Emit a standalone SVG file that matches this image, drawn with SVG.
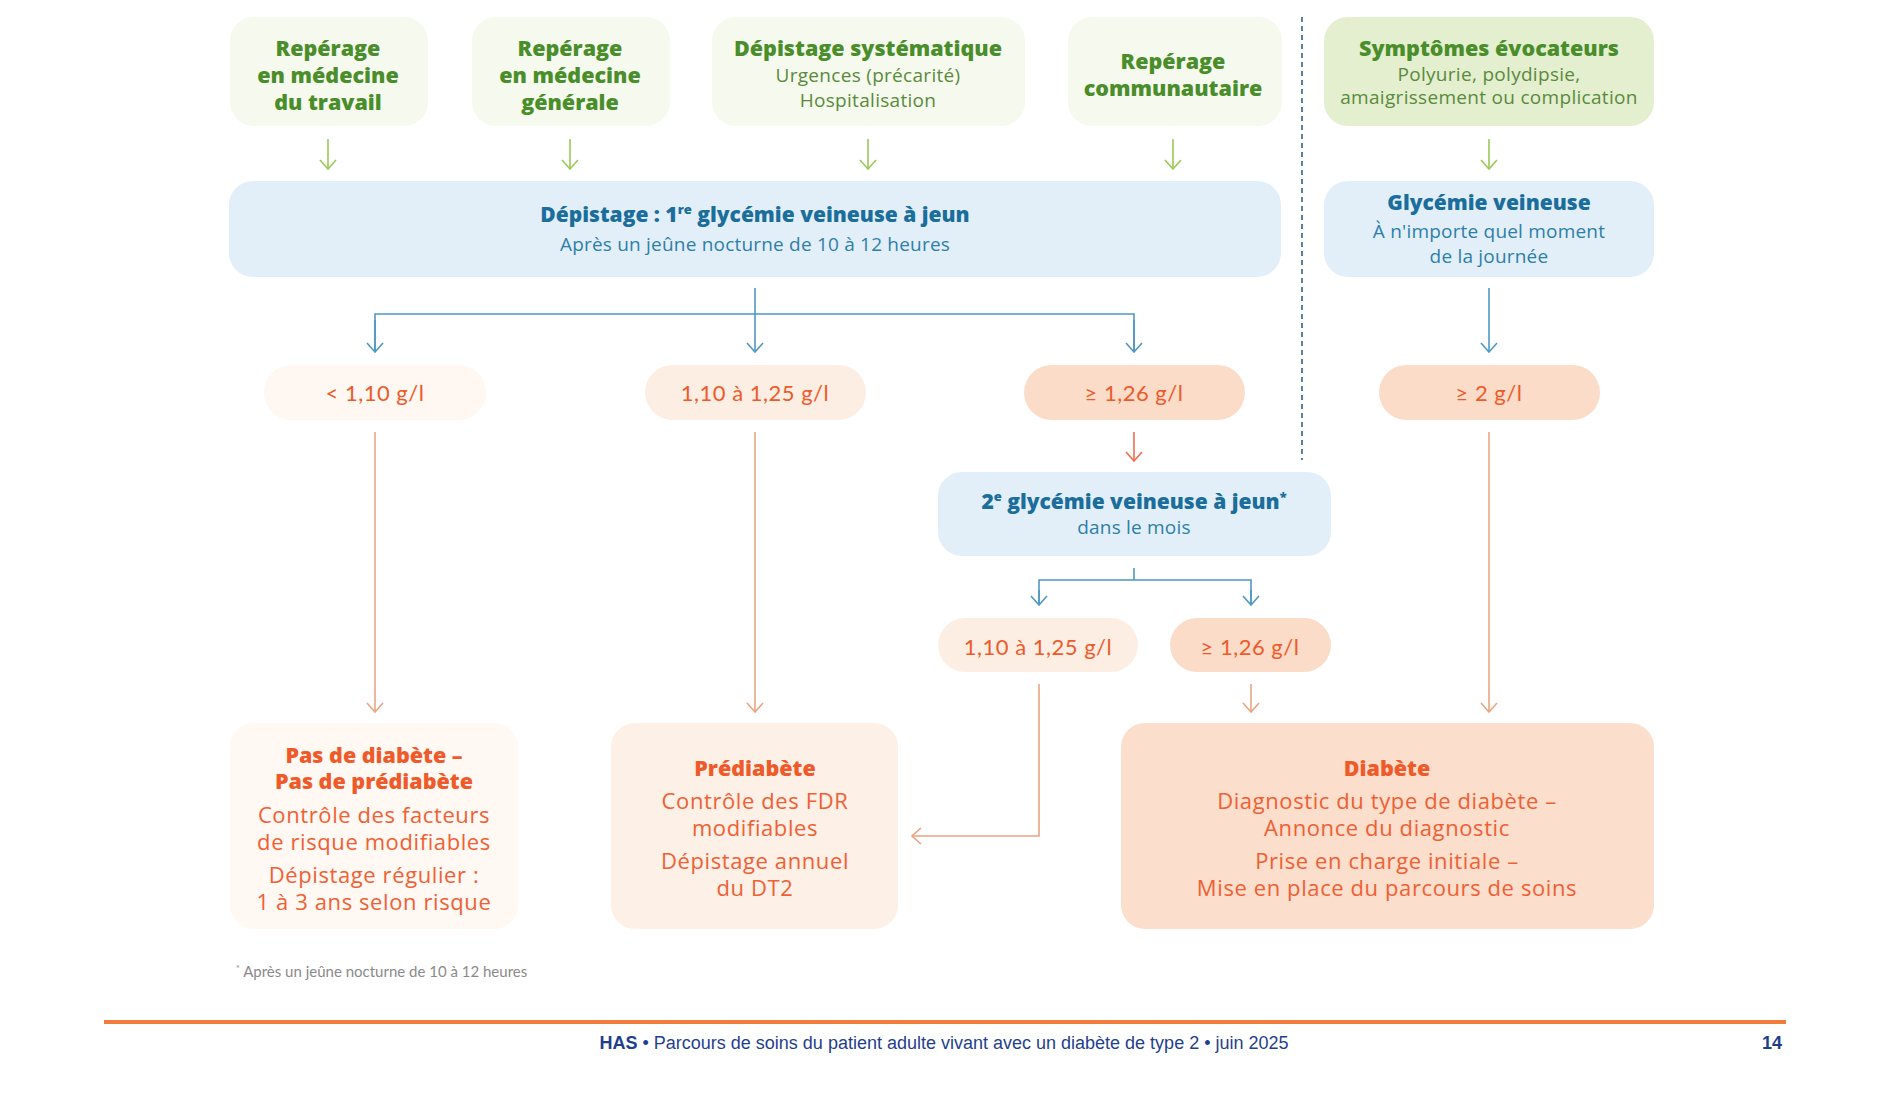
<svg xmlns="http://www.w3.org/2000/svg" width="1896" height="1114" viewBox="0 0 1896 1114">
<style>
text{font-family:"Open Sans",Lato,"Liberation Sans",sans-serif;text-anchor:middle}
.gt{font-weight:800;font-size:21.5px;fill:#4a8d2b}
.gs{font-size:19px;fill:#5b8a3c;letter-spacing:0.3px}
.bt{font-weight:800;font-size:21px;fill:#1b6d9c}
.bs{font-size:19px;fill:#2f7ea9;letter-spacing:0.2px}
.ot{font-weight:800;font-size:21.5px;fill:#ef5a2a}
.os{font-size:22px;fill:#f06034;letter-spacing:0.6px}
.pill{font-family:Lato,"Open Sans",sans-serif;font-size:22px;fill:#ef5a2a;letter-spacing:0.5px}
.gl{stroke:#9cc85a;stroke-width:1.6;fill:none}
.bl{stroke:#4f98c4;stroke-width:1.6;fill:none}
.ol{stroke:#eaa481;stroke-width:1.6;fill:none}
.rl{stroke:#ef6d4d;stroke-width:1.6;fill:none}
</style>
<defs>
<marker id="ag" viewBox="0 0 12 20" refX="11" refY="10" markerWidth="12" markerHeight="20" markerUnits="userSpaceOnUse" orient="auto"><polyline points="2,2 11,10 2,18" fill="none" stroke="#9cc85a" stroke-width="1.6"/></marker>
<marker id="ab" viewBox="0 0 12 20" refX="11" refY="10" markerWidth="12" markerHeight="20" markerUnits="userSpaceOnUse" orient="auto"><polyline points="2,2 11,10 2,18" fill="none" stroke="#4f98c4" stroke-width="1.6"/></marker>
<marker id="ao" viewBox="0 0 12 20" refX="11" refY="10" markerWidth="12" markerHeight="20" markerUnits="userSpaceOnUse" orient="auto"><polyline points="2,2 11,10 2,18" fill="none" stroke="#eaa481" stroke-width="1.6"/></marker>
<marker id="ar" viewBox="0 0 12 20" refX="11" refY="10" markerWidth="12" markerHeight="20" markerUnits="userSpaceOnUse" orient="auto"><polyline points="2,2 11,10 2,18" fill="none" stroke="#ef6d4d" stroke-width="1.6"/></marker>
</defs>
<rect width="1896" height="1114" fill="#ffffff"/>

<g id="connectors">
<line class="gl" x1="328" y1="139" x2="328" y2="169" marker-end="url(#ag)"/>
<line class="gl" x1="570" y1="139" x2="570" y2="169" marker-end="url(#ag)"/>
<line class="gl" x1="868" y1="139" x2="868" y2="169" marker-end="url(#ag)"/>
<line class="gl" x1="1173" y1="139" x2="1173" y2="169" marker-end="url(#ag)"/>
<line class="gl" x1="1489" y1="139" x2="1489" y2="169" marker-end="url(#ag)"/>
<line class="bl" x1="755" y1="288" x2="755" y2="352" marker-end="url(#ab)"/>
<polyline class="bl" points="375,352 375,314 1134,314 1134,352"/>
<line class="bl" x1="375" y1="320" x2="375" y2="352" marker-end="url(#ab)"/>
<line class="bl" x1="1134" y1="320" x2="1134" y2="352" marker-end="url(#ab)"/>
<line class="bl" x1="1489" y1="288" x2="1489" y2="352" marker-end="url(#ab)"/>
<line class="rl" x1="1134" y1="432" x2="1134" y2="461" marker-end="url(#ar)"/>
<line class="bl" x1="1134" y1="568" x2="1134" y2="580"/>
<polyline class="bl" points="1039,605 1039,580 1251,580 1251,605"/>
<line class="bl" x1="1039" y1="590" x2="1039" y2="605" marker-end="url(#ab)"/>
<line class="bl" x1="1251" y1="590" x2="1251" y2="605" marker-end="url(#ab)"/>
<line class="ol" x1="1251" y1="684" x2="1251" y2="712" marker-end="url(#ao)"/>
<polyline class="ol" points="1039,684 1039,836 912,836" marker-end="url(#ao)"/>
<line class="ol" x1="375" y1="432" x2="375" y2="712" marker-end="url(#ao)"/>
<line class="ol" x1="755" y1="432" x2="755" y2="712" marker-end="url(#ao)"/>
<line class="ol" x1="1489" y1="432" x2="1489" y2="712" marker-end="url(#ao)"/>
<line x1="1302" y1="17" x2="1302" y2="460" stroke="#5b7fa5" stroke-width="2" stroke-dasharray="5,4"/>
</g>

<g id="n-travail">
<rect x="230" y="17" width="198" height="109" rx="24" fill="#f5f9ee"/>
<text class="gt" x="328" y="56">Repérage</text>
<text class="gt" x="328" y="83">en médecine</text>
<text class="gt" x="328" y="110">du travail</text>
</g>
<g id="n-generale">
<rect x="472" y="17" width="198" height="109" rx="24" fill="#f5f9ee"/>
<text class="gt" x="570" y="56">Repérage</text>
<text class="gt" x="570" y="83">en médecine</text>
<text class="gt" x="570" y="110">générale</text>
</g>
<g id="n-systematique">
<rect x="712" y="17" width="313" height="109" rx="24" fill="#f5f9ee"/>
<text class="gt" x="868" y="56">Dépistage systématique</text>
<text class="gs" x="868" y="82">Urgences (précarité)</text>
<text class="gs" x="868" y="107">Hospitalisation</text>
</g>
<g id="n-communautaire">
<rect x="1068" y="17" width="214" height="109" rx="24" fill="#f5f9ee"/>
<text class="gt" x="1173" y="69">Repérage</text>
<text class="gt" x="1173" y="96">communautaire</text>
</g>
<g id="n-symptomes">
<rect x="1324" y="17" width="330" height="109" rx="24" fill="#e3efcf"/>
<text class="gt" x="1489" y="56">Symptômes évocateurs</text>
<text class="gs" x="1489" y="81">Polyurie, polydipsie,</text>
<text class="gs" x="1489" y="104">amaigrissement ou complication</text>
</g>

<g id="n-depistage1">
<rect x="229" y="181" width="1052" height="96" rx="24" fill="#e2eff8"/>
<text class="bt" x="755" y="222">Dépistage : 1<tspan font-size="13" dy="-8">re</tspan><tspan dy="8"> glycémie veineuse à jeun</tspan></text>
<text class="bs" x="755" y="251">Après un jeûne nocturne de 10 à 12 heures</text>
</g>
<g id="n-glycemie">
<rect x="1324" y="181" width="330" height="96" rx="24" fill="#e2eff8"/>
<text class="bt" x="1489" y="210">Glycémie veineuse</text>
<text class="bs" x="1489" y="238">À n'importe quel moment</text>
<text class="bs" x="1489" y="263">de la journée</text>
</g>

<g id="n-lt110">
<rect x="264" y="365" width="222" height="55" rx="27.5" fill="#fff7f1"/>
<text class="pill" x="375" y="401">&lt; 1,10 g/l</text>
</g>
<g id="n-110-125">
<rect x="645" y="365" width="221" height="55" rx="27.5" fill="#fdeee3"/>
<text class="pill" x="755" y="401">1,10 à 1,25 g/l</text>
</g>
<g id="n-ge126">
<rect x="1024" y="365" width="221" height="55" rx="27.5" fill="#fbdcc8"/>
<text class="pill" x="1134" y="401">≥ 1,26 g/l</text>
</g>
<g id="n-ge2">
<rect x="1379" y="365" width="221" height="55" rx="27.5" fill="#fbdcc8"/>
<text class="pill" x="1489" y="401">≥ 2 g/l</text>
</g>

<g id="n-depistage2">
<rect x="938" y="472" width="393" height="84" rx="24" fill="#e2eff8"/>
<text class="bt" x="1134" y="509">2<tspan font-size="13" dy="-8">e</tspan><tspan dy="8"> glycémie veineuse à jeun</tspan><tspan font-size="13" dy="-8">*</tspan></text>
<text class="bs" x="1134" y="534">dans le mois</text>
</g>
<g id="n2-110-125">
<rect x="938" y="618" width="200" height="54" rx="27" fill="#fdeee3"/>
<text class="pill" x="1038" y="655">1,10 à 1,25 g/l</text>
</g>
<g id="n2-ge126">
<rect x="1170" y="618" width="161" height="54" rx="27" fill="#fbdcc8"/>
<text class="pill" x="1250" y="655">≥ 1,26 g/l</text>
</g>

<g id="n-pas-diabete">
<rect x="230" y="723" width="288" height="206" rx="24" fill="#fff8f3"/>
<text class="ot" x="374" y="763">Pas de diabète –</text>
<text class="ot" x="374" y="789">Pas de prédiabète</text>
<text class="os" x="374" y="823">Contrôle des facteurs</text>
<text class="os" x="374" y="850">de risque modifiables</text>
<text class="os" x="374" y="883">Dépistage régulier :</text>
<text class="os" x="374" y="910">1 à 3 ans selon risque</text>
</g>
<g id="n-prediabete">
<rect x="611" y="723" width="287" height="206" rx="24" fill="#fdf0e6"/>
<text class="ot" x="755" y="776">Prédiabète</text>
<text class="os" x="755" y="809">Contrôle des FDR</text>
<text class="os" x="755" y="836">modifiables</text>
<text class="os" x="755" y="869">Dépistage annuel</text>
<text class="os" x="755" y="896">du DT2</text>
</g>
<g id="n-diabete">
<rect x="1121" y="723" width="533" height="206" rx="24" fill="#fbdecb"/>
<text class="ot" x="1387" y="776">Diabète</text>
<text class="os" x="1387" y="809">Diagnostic du type de diabète –</text>
<text class="os" x="1387" y="836">Annonce du diagnostic</text>
<text class="os" x="1387" y="869">Prise en charge initiale –</text>
<text class="os" x="1387" y="896">Mise en place du parcours de soins</text>
</g>

<text x="236" y="977" style="text-anchor:start;font-family:Lato,sans-serif;font-size:15px;fill:#8a8a8a"><tspan font-size="9" dy="-5">*</tspan><tspan dy="5"> Après un jeûne nocturne de 10 à 12 heures</tspan></text>
<line x1="104" y1="1022" x2="1786" y2="1022" stroke="#f07c3c" stroke-width="4"/>
<text x="944" y="1049" style="font-family:'Liberation Sans',Arial,sans-serif;font-size:18px;fill:#1f3f8e"><tspan font-weight="700">HAS</tspan> • Parcours de soins du patient adulte vivant avec un diabète de type 2 • juin 2025</text>
<text x="1782" y="1049" style="font-family:'Liberation Sans',Arial,sans-serif;font-size:18px;font-weight:700;fill:#1f3f8e;text-anchor:end">14</text>
</svg>
